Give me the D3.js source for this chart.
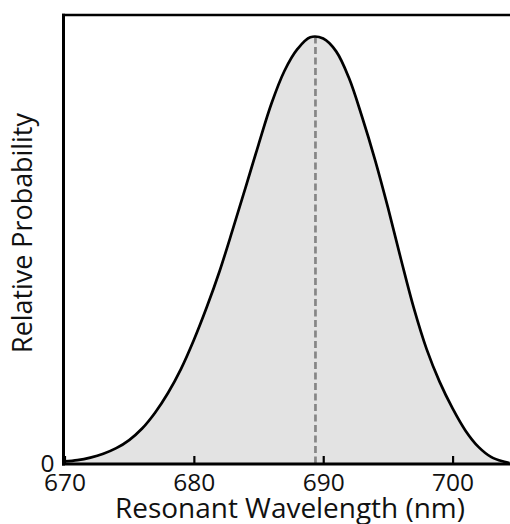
<!DOCTYPE html>
<html><head><meta charset="utf-8">
<script src="https://cdn.jsdelivr.net/npm/d3@7"></script>
<style>body{margin:0;background:#fff}svg{display:block}</style>
</head><body>
<svg id="chart" width="510" height="524"></svg>
<script>
// ---- data ----
const wavelengths = [670,671,672,673,674,675,676,677,678,679,680,681,682,683,684,685,686,687,688,689,690,691,692,693,694,695,696,697,698,699,700,701,702,703,704,704.4];
const probabilities = [0.006,0.009,0.015,0.024,0.037,0.056,0.083,0.120,0.166,0.222,0.290,0.367,0.452,0.548,0.647,0.747,0.843,0.919,0.970,0.998,0.995,0.965,0.902,0.812,0.712,0.600,0.480,0.365,0.268,0.192,0.130,0.078,0.040,0.016,0.005,0.002];
const xTickValues = [670,680,690,700];
const yTickValues = [0];
const peakWavelength = 689.4;
const xLabel = "Resonant Wavelength (nm)";
const yLabel = "Relative Probability";

// ---- drawing ----
(function () {
const svg = d3.select("#chart");
const FONT = "'Open Sans', 'DejaVu Sans', sans-serif";
const x = d3.scaleLinear().domain([670, 704.4]).range([64.5, 509.5]);
const y = d3.scaleLinear().domain([0, 1.05]).range([464, 15]);

const data = wavelengths.map((w, i) => ({w, p: probabilities[i]}));
const curve = d3.curveCatmullRom.alpha(0.5);
const area = d3.area().x(d => x(d.w)).y0(y(0)).y1(d => y(d.p)).curve(curve);
const line = d3.line().x(d => x(d.w)).y(d => y(d.p)).curve(curve);

svg.append("path").datum(data).attr("d", area).attr("fill", "#e3e3e3");

svg.append("line")
  .attr("x1", x(peakWavelength)).attr("x2", x(peakWavelength))
  .attr("y1", y(1)).attr("y2", y(0))
  .attr("stroke", "#868686").attr("stroke-width", 2.7)
  .attr("stroke-dasharray", "7,3.5");

svg.append("path").datum(data).attr("d", line)
  .attr("fill", "none").attr("stroke", "#000").attr("stroke-width", 2.7)
  .attr("stroke-linejoin", "round");

// x axis (ticks pointing inward)
const xAxis = d3.axisBottom(x).tickValues(xTickValues).tickFormat(d3.format("d"))
  .tickSize(-8).tickSizeOuter(0).tickPadding(10);
const gx = svg.append("g").attr("transform", `translate(0,${y(0)})`).call(xAxis);
gx.select(".domain").remove();
gx.selectAll(".tick line").attr("stroke", "#000").attr("stroke-width", 2.2);
gx.selectAll(".tick text").attr("font-family", FONT).attr("font-size", 24.5).attr("fill", "#111");

// y axis
const yAxis = d3.axisLeft(y).tickValues(yTickValues).tickFormat(d3.format("d"))
  .tickSize(0).tickSizeOuter(0).tickPadding(10);
const gy = svg.append("g").attr("transform", `translate(${x(670)},0)`).call(yAxis);
gy.select(".domain").remove();
gy.selectAll(".tick text").attr("font-family", FONT).attr("font-size", 24.5).attr("fill", "#111");

// frame lines
const frameLeft = x(670) - 1, frameTop = y(1.05), frameBottom = y(0);
svg.append("line").attr("x1", frameLeft).attr("x2", frameLeft).attr("y1", frameTop - 1.3).attr("y2", frameBottom + 1.5)
  .attr("stroke", "#000").attr("stroke-width", 3);
svg.append("line").attr("x1", frameLeft - 1.5).attr("x2", 510).attr("y1", frameTop).attr("y2", frameTop)
  .attr("stroke", "#000").attr("stroke-width", 2.7);
svg.append("line").attr("x1", frameLeft - 1.5).attr("x2", 510).attr("y1", frameBottom).attr("y2", frameBottom)
  .attr("stroke", "#000").attr("stroke-width", 3);

function fit(t, target) {
  const w = t.node().getComputedTextLength();
  const fs = parseFloat(t.attr("font-size"));
  t.attr("font-size", fs * target / w);
}

const xl = svg.append("text").attr("x", 290).attr("y", 518)
  .attr("text-anchor", "middle").attr("font-family", FONT).attr("font-size", 27)
  .attr("fill", "#111").text(xLabel);
fit(xl, 350);

const yl = svg.append("text").attr("transform", "translate(32,233) rotate(-90)")
  .attr("text-anchor", "middle").attr("font-family", FONT).attr("font-size", 27)
  .attr("fill", "#111").text(yLabel);
fit(yl, 240);
})();
</script>
</body></html>
